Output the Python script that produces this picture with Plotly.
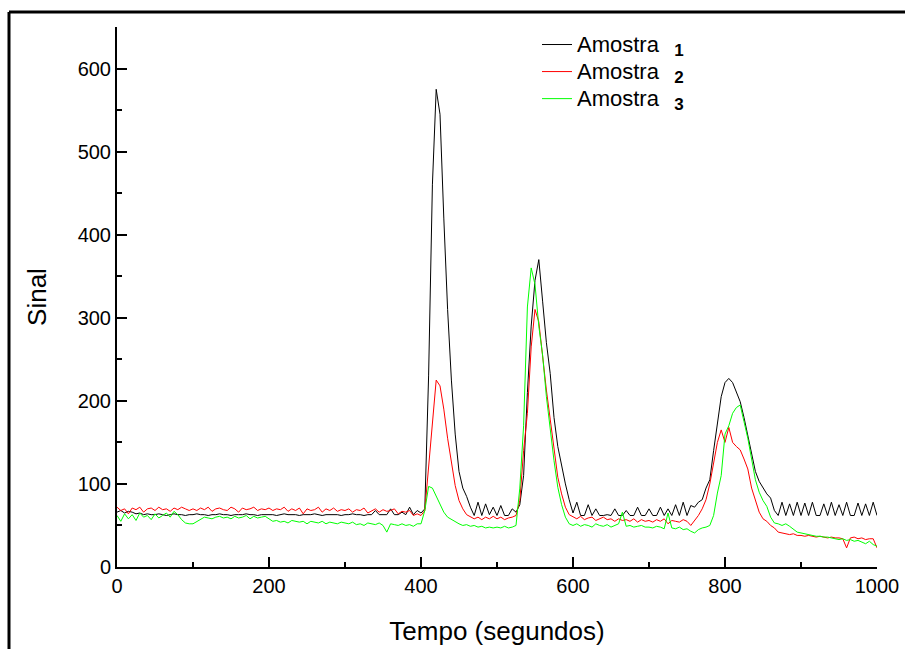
import plotly.graph_objects as go

tempo = list(range(0, 1001, 5))

amostra1 = [
    66, 68, 65, 67, 66, 64, 65, 63, 64, 63, 63, 64, 63, 62, 63, 64, 63, 63, 62, 63,
    63, 64, 63, 63, 62, 63, 63, 64, 63, 63, 62, 63, 63, 63, 64, 63, 63, 62, 63, 63,
    63, 63, 62, 63, 64, 63, 63, 63, 62, 63, 63, 63, 64, 63, 62, 63, 63, 63, 63, 62,
    63, 63, 64, 63, 63, 62, 63, 63, 68, 63, 63, 63, 70, 63, 63, 66, 63, 72, 63, 68,
    65, 70, 230, 460, 575, 545, 420, 310, 225, 160, 115, 95, 85, 72, 62, 78, 62, 76, 63, 72,
    62, 74, 62, 62, 70, 66, 75, 110, 210, 290, 345, 370, 320, 270, 233, 180, 145, 121, 100, 81,
    65, 78, 62, 62, 75, 62, 70, 62, 62, 63, 62, 70, 62, 62, 68, 62, 62, 72, 62, 62,
    70, 62, 62, 72, 62, 70, 62, 75, 62, 78, 62, 74, 72, 78, 81, 95, 105, 140, 175, 205,
    222, 227, 222, 210, 199, 180, 157, 137, 115, 103, 95, 88, 83, 68, 62, 78, 62, 76, 62, 78,
    62, 77, 62, 78, 62, 62, 76, 62, 78, 62, 75, 62, 78, 62, 62, 77, 62, 76, 62, 78,
    62,
]

amostra2 = [
    72, 68, 70, 64, 71, 69, 72, 66, 70, 71, 68, 72, 69, 70, 67, 71, 69, 72, 70, 68,
    70, 68, 71, 69, 72, 67, 70, 71, 69, 68, 72, 70, 66, 71, 69, 70, 72, 68, 70, 69,
    71, 68, 70, 69, 72, 67, 70, 68, 71, 64, 70, 68, 69, 72, 66, 70, 68, 71, 67, 69,
    68, 70, 66, 69, 68, 71, 65, 68, 70, 66, 69, 67, 68, 70, 64, 67, 66, 68, 62, 64,
    62, 68, 120, 165, 225, 218, 190, 155, 125, 98, 80, 70, 63, 60, 58, 60, 57, 60, 58, 61,
    58, 60, 57, 59, 60, 62, 80, 140, 185, 265, 310, 295, 250, 213, 178, 140, 108, 88, 72, 63,
    60, 58, 61, 57, 59, 60, 56, 58, 60, 57, 58, 55, 58, 56, 57, 55, 58, 54, 57, 55,
    56, 54, 57, 55, 58, 52, 56, 55, 54, 57, 55, 50, 56, 62, 70, 81, 100, 125, 150, 165,
    150, 168, 150, 145, 141, 130, 118, 95, 80, 66, 58, 55, 50, 47, 42, 41, 40, 39, 40, 38,
    38, 37, 38, 37, 36, 37, 36, 35, 36, 35, 35, 34, 23, 35, 36, 34, 35, 33, 34, 34,
    23,
]

amostra3 = [
    62, 55, 64, 58, 63, 56, 65, 60, 62, 57, 64, 59, 62, 65, 60, 67, 63, 57, 53, 52,
    52, 55, 58, 60, 59, 58, 60, 61, 59, 60, 58, 61, 59, 60, 62, 58, 61, 59, 60, 61,
    58, 55, 56, 54, 55, 53, 56, 55, 54, 55, 52, 55, 54, 53, 55, 52, 54, 53, 52, 54,
    53, 52, 54, 51, 52, 50, 53, 52, 51, 53, 50, 42, 52, 51, 50, 52, 50, 51, 49, 52,
    52, 68, 97, 95, 85, 75, 66, 60, 57, 55, 52, 50, 51, 49, 50, 48, 49, 47, 48, 47,
    48, 47, 49, 47, 48, 50, 95, 170, 313, 360, 340, 290, 255, 205, 165, 128, 96, 75, 60, 52,
    50, 52, 49, 51, 50, 48, 52, 50, 49, 51, 48, 50, 52, 66, 49, 50, 48, 49, 50, 48,
    48, 47, 49, 48, 46, 65, 47, 46, 48, 45, 46, 43, 41, 45, 47, 48, 50, 62, 89, 110,
    160, 170, 185, 192, 195, 175, 155, 130, 105, 90, 80, 73, 60, 53, 52, 50, 52, 49, 45, 42,
    41, 40, 39, 38, 37, 37, 36, 36, 35, 34, 33, 34, 32, 33, 31, 32, 30, 28, 31, 27,
    25,
]

numeros = ["1", "2", "3"]
nomes = [("<span style='font-size:22px'>Amostra</span>&nbsp;&nbsp;&nbsp;"
          "<sub><b><span style='font-size:17px'>%s</span></b></sub>") % n
         for n in numeros]
cores = ["#000000", "#FF0000", "#00FF00"]
series = [amostra1, amostra2, amostra3]

fig = go.Figure()
for nome, cor, ys in zip(nomes, cores, series):
    fig.add_trace(go.Scatter(x=tempo, y=ys, mode="lines", name=nome,
                             line=dict(color=cor, width=1)))

W, H = 905, 649
L, R, T, B = 117, 28, 27, 82
pw, ph = W - L - R, H - T - B

def px(xp):
    return (xp - L) / pw

def py(yp):
    return (H - B - yp) / ph

fig.update_layout(
    width=W, height=H,
    margin=dict(l=L, r=R, t=T, b=B, autoexpand=False),
    paper_bgcolor="white", plot_bgcolor="white",
    font=dict(family="Arial, Liberation Sans, sans-serif", color="black", size=20),
    showlegend=True,
    legend=dict(x=px(537), y=py(26), xanchor="left", yanchor="top",
                bgcolor="rgba(0,0,0,0)", font=dict(size=18.5),
                tracegroupgap=0),
    xaxis=dict(range=[0, 1000], dtick=200, tick0=0, showline=True, linewidth=2,
               linecolor="black", ticks="inside", ticklen=10, tickwidth=2,
               tickcolor="black", showgrid=False, zeroline=False, mirror=False,
               automargin=False,
               minor=dict(dtick=100, ticks="inside", ticklen=5, tickwidth=2,
                          tickcolor="black", showgrid=False),
               title=dict(text="Tempo (segundos)", font=dict(size=26), standoff=26)),
    yaxis=dict(range=[0, 650], dtick=100, tick0=0, showline=True, linewidth=2,
               linecolor="black", ticks="inside", ticklen=10, tickwidth=2,
               tickcolor="black", showgrid=False, zeroline=False, mirror=False,
               automargin=False,
               minor=dict(dtick=50, ticks="inside", ticklen=5, tickwidth=2,
                          tickcolor="black", showgrid=False),
               title=dict(text="Sinal", font=dict(size=26), standoff=24)),
    shapes=[
        dict(type="line", xref="paper", yref="paper", x0=px(9), x1=px(9),
             y0=py(12), y1=py(H + 20), line=dict(color="black", width=3)),
        dict(type="line", xref="paper", yref="paper", x0=px(9), x1=px(W + 20),
             y0=py(12), y1=py(12), line=dict(color="black", width=3)),
    ],
)

fig.write_html("out.html")
